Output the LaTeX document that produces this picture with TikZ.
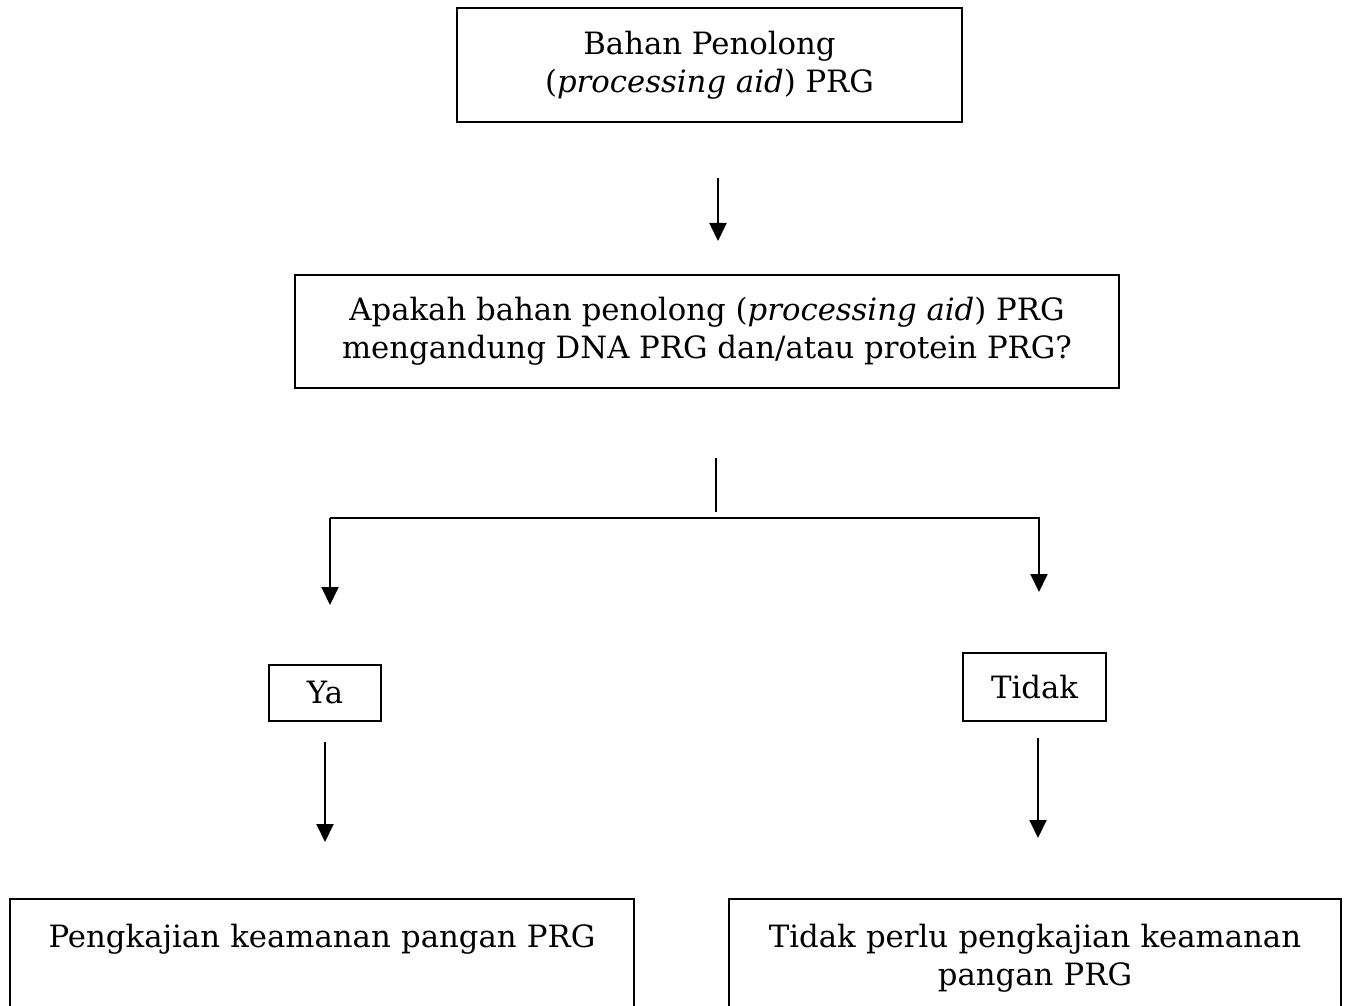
\documentclass[tikz,border=0pt]{standalone}
\usepackage{fontspec}
\setmainfont{DejaVu Serif}
\usepackage{tikz}
\usetikzlibrary{positioning}
\usetikzlibrary{arrows.meta}

\tikzset{
  box/.style={draw, line width=1.1pt, align=center, inner sep=0pt},
  result/.style={draw, line width=1.1pt, anchor=north, align=center,
    inner xsep=0.2cm, inner ysep=0.55cm, text height=0.43cm, text depth=2cm},
  arr/.style={line width=1.1pt, -{Triangle[length=0.36cm,width=0.34cm]}},
}

\begin{document}
\begin{tikzpicture}[x=0.02cm, y=-0.02cm, font=\fontsize{17.5}{21.5}\selectfont]
\useasboundingbox (0,0) rectangle (1350,1006);

\node[box, minimum width=10.1cm, minimum height=2.28cm] (aid) at (709.5,65)
  {Bahan Penolong\\(\textit{processing aid}) PRG};
\node[box, minimum width=16.48cm, minimum height=2.26cm] (ask) at (707,331.5)
  {Apakah bahan penolong (\textit{processing aid}) PRG\\mengandung DNA PRG dan/atau protein PRG?};
\node[box, minimum width=2.24cm, minimum height=1.12cm] (ya) at (325,693) {Ya};
\node[box, minimum width=2.86cm, minimum height=1.36cm] (tidak) at (1034.5,687) {Tidak};
\node[result, minimum width=12.48cm, text width=12.08cm] (kaji) at (322,898)
  {Pengkajian keamanan pangan PRG};
\node[result, minimum width=12.24cm, text width=11.84cm] (bebas) at (1035,898)
  {Tidak perlu pengkajian keamanan\\pangan PRG};

% free ends of the connectors
\coordinate (a1s) at (718,178);
\coordinate (a1e) at (718,241);
\coordinate (stem) at (716,458);
\coordinate (fork) at (716,512);
\coordinate (lturn) at (330,518);
\coordinate (rturn) at (1039,518);
\coordinate (ltip) at (330,605);
\coordinate (rtip) at (1039,592);
\coordinate (yas) at (325,742);
\coordinate (yae) at (325,842);
\coordinate (tds) at (1038,738);
\coordinate (tde) at (1038,838);

\draw[arr] (a1s) -- (a1e);
\draw[line width=1.1pt] (stem) -- (fork);
\draw[arr] (lturn) -- (rturn) -- (rtip);
\draw[arr] (lturn) -- (ltip);
\draw[arr] (yas) -- (yae);
\draw[arr] (tds) -- (tde);
\end{tikzpicture}
\end{document}
